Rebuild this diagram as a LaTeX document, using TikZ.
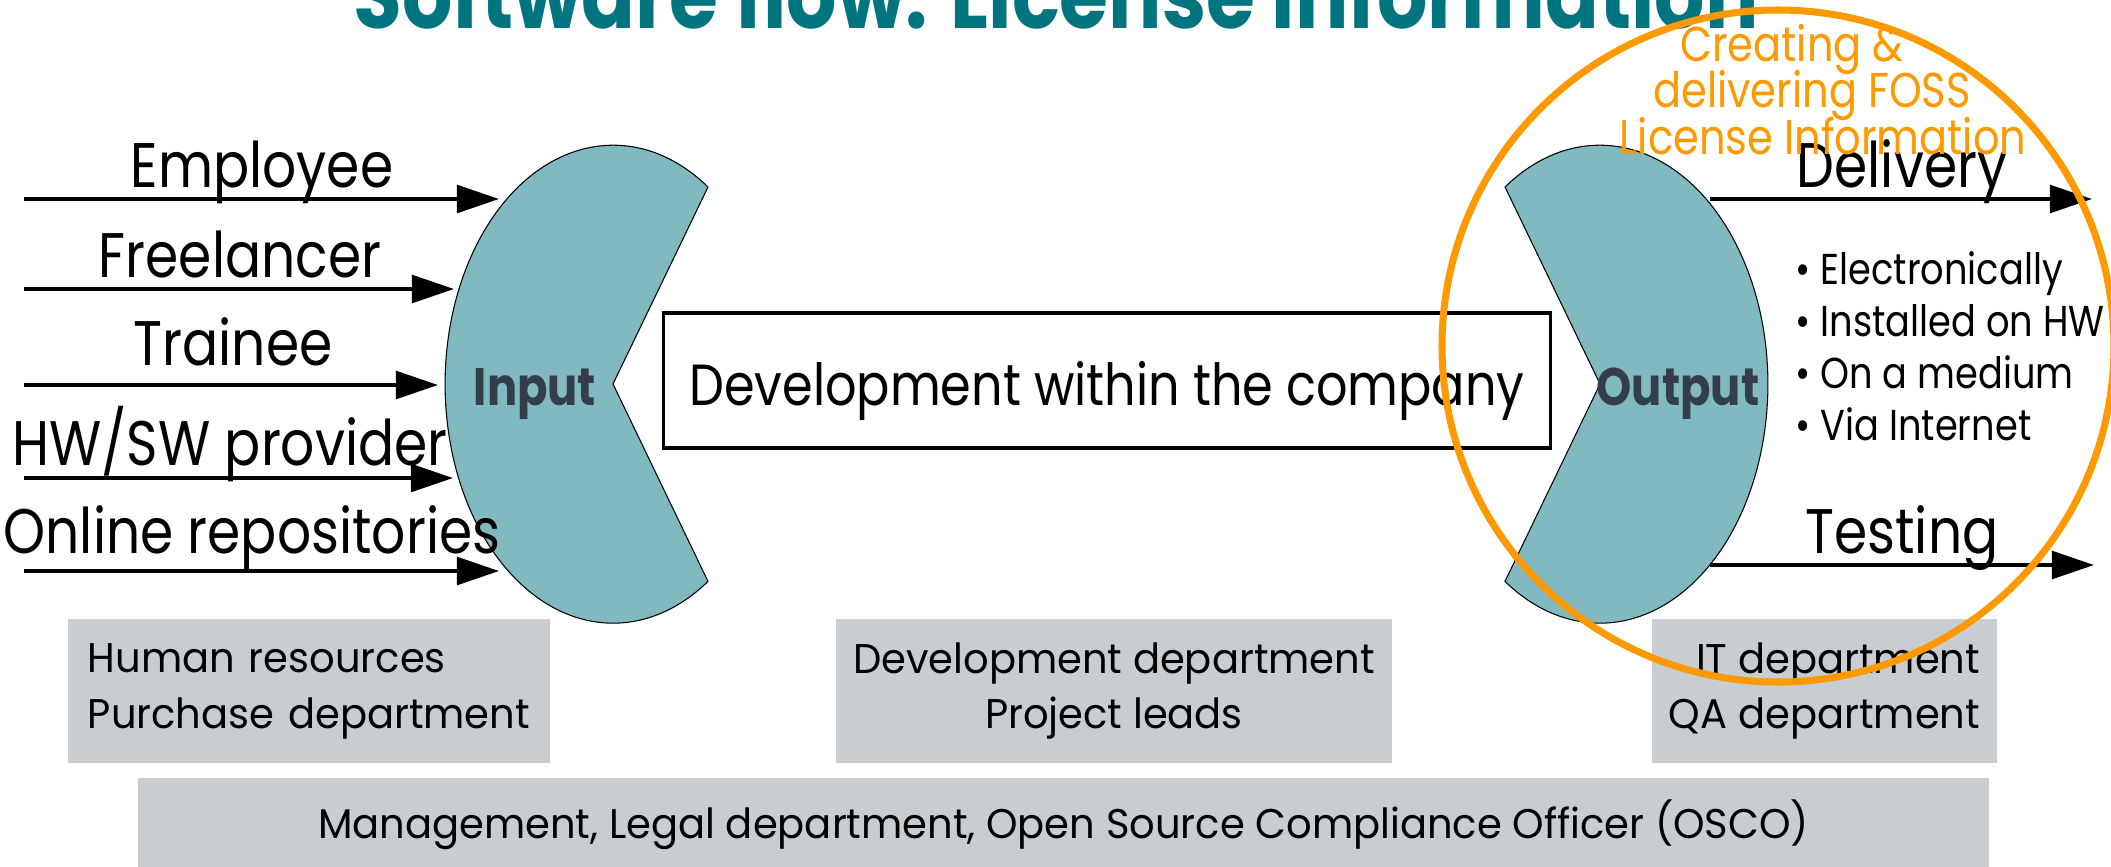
\documentclass[tikz,border=0pt]{standalone}
\usepackage{fontspec}
\setmainfont{Poppins}[FakeStretch=0.85]
\newfontfamily\deptfont{Poppins}[FakeStretch=0.965]
\usepackage{xcolor}
\usetikzlibrary{
    arrows.meta,
    positioning
}
\definecolor{flowteal}{RGB}{0,116,127}
\definecolor{pacteal}{RGB}{128,185,191}
\definecolor{pacink}{RGB}{52,62,74}
\definecolor{deptgray}{RGB}{200,205,209}
\definecolor{fossorange}{RGB}{255,153,0}

\begin{document}
\begin{tikzpicture}[x=0.01cm, y=-0.01cm,
    feed/.style={line width=1pt, -{Triangle[length=12pt, width=7.9pt]}},
    srclabel/.style={anchor=base, inner sep=0pt, font=\fontsize{17.9}{20}\selectfont},
    pacman/.style={draw, fill=pacteal, line width=0.3pt},
    pacname/.style={anchor=base, inner sep=0pt, text=pacink, font=\fontsize{15}{18}\selectfont\bfseries},
    dept/.style={fill=deptgray, inner sep=0pt, minimum height=1.44cm, font=\deptfont\fontsize{11.8}{15.9}\selectfont}]
                        \useasboundingbox (0, 0) rectangle (2111, 866);
                        \clip (0, 0) rectangle (2111, 866);
                        \node[anchor=base, inner sep=0pt, text=flowteal, font=\fontsize{26.5}{30}\selectfont\bfseries] (title) at (1056, 28) {Software flow: License information};
                        % input and output shapes
                        \draw[pacman] (708, 187) arc[start angle=-55.6, end angle=-304.4, x radius=168, y radius=239] -- (613, 384) -- cycle;
                        \draw[pacman] (1505, 187) arc[start angle=-124.4, end angle=124.4, x radius=168, y radius=239] -- (1600, 384) -- cycle;
                        \node[pacname] (input) at (535, 405) {Input};
                        \node[pacname] (output) at (1678, 405) {Output};
                        \node[draw, line width=0.95pt, minimum width=8.86cm, minimum height=1.35cm, text height=14pt, text depth=0pt, inner sep=0pt, font=\fontsize{16.5}{20}\selectfont] (dev) at (1107, 380.5) {Development within the company};
                        % sources
                        \node[srclabel] (employee) at (262, 187) {Employee};
                        \node[srclabel] (freelancer) at (240, 277) {Freelancer};
                        \node[srclabel] (trainee) at (233, 365) {Trainee};
                        \node[srclabel] (provider) at (230, 465) {HW/SW provider};
                        \node[srclabel] (repos) at (252, 553) {Online repositories};
                        \coordinate (e0) at (24, 199);
                        \coordinate (e1) at (499, 199);
                        \coordinate (f0) at (24, 289);
                        \coordinate (f1) at (454, 289);
                        \coordinate (t0) at (24, 385);
                        \coordinate (t1) at (438, 385);
                        \coordinate (h0) at (24, 478);
                        \coordinate (h1) at (453, 478);
                        \coordinate (r0) at (24, 571);
                        \coordinate (r1) at (499, 571);
                        \draw
                        (e0) edge[feed] (e1)
                        (f0) edge[feed] (f1)
                        (t0) edge[feed] (t1)
                        (h0) edge[feed] (h1)
                        (r0) edge[feed] (r1);
                        % outputs
                        \node[srclabel] (delivery) at (1902, 187) {Delivery};
                        \node[srclabel] (testing) at (1902, 553) {Testing};
                        \coordinate (d0) at (1710, 199);
                        \coordinate (d1) at (2092, 199);
                        \coordinate (q0) at (1710, 565);
                        \coordinate (q1) at (2094, 565);
                        \draw
                        (d0) edge[feed] (d1)
                        (q0) edge[feed] (q1);
                        \node[anchor=north west, inner sep=0pt, align=left, font=\fontsize{12.3}{14.8}\selectfont] (ways) at (1795, 251) {\textbullet\ Electronically\\\textbullet\ Installed on HW\\\textbullet\ On a medium\\\textbullet\ Via Internet};
                        % departments
                        \node[dept, minimum width=4.82cm, text width=4.42cm, align=left] (hr) at (309, 691) {Human resources\\Purchase department};
                        \node[dept, minimum width=5.56cm, align=center] (devdept) at (1114, 691) {Development department\\Project leads};
                        \node[dept, minimum width=3.45cm, align=right] (itqa) at (1824.5, 691) {IT department\\QA department};
                        \node[dept, minimum width=18.49cm, minimum height=0.94cm] (mgmt) at (1063.5, 825) {Management, Legal department, Open Source Compliance Officer (OSCO)};
                        % FOSS license information
                        \draw[fossorange, line width=2pt] (1778, 346) circle[radius=336];
                        \node[anchor=north, inner sep=0pt, align=center, text=fossorange, font={\fontsize{13.9}{13.1}\selectfont\lineskiplimit=-10pt}] (foss) at (1812, 24) {Creating \&\hspace{11.4pt}\mbox{}\\delivering FOSS\\\hspace{6.3pt}License Information};
                    \end{tikzpicture}
\end{document}
